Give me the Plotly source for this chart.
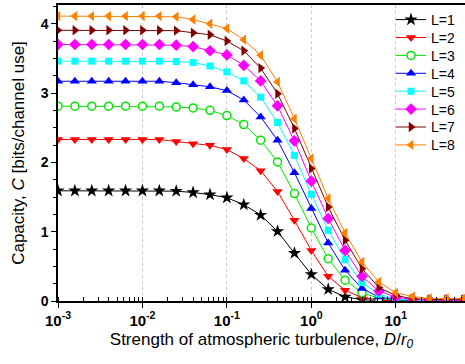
import plotly.graph_objects as go

# D/r0 values (5 points per decade)
x_vals = [0.001, 0.001585, 0.002512, 0.003981, 0.00631,
          0.01, 0.01585, 0.02512, 0.03981, 0.0631,
          0.1, 0.1585, 0.2512, 0.3981, 0.631,
          1.0, 1.585, 2.512, 3.981, 6.31,
          10.0, 15.85, 25.12, 39.81, 63.1]

cap_L1 = [1.59, 1.59, 1.59, 1.59, 1.59, 1.59, 1.59, 1.585, 1.565, 1.535,
          1.49, 1.39, 1.24, 1.005, 0.69, 0.383, 0.168, 0.06, 0.018, 0.005,
          0.002, 0.001, 0.001, 0.001, 0.001]
cap_L2 = [2.33, 2.33, 2.33, 2.33, 2.33, 2.33, 2.33, 2.30, 2.27, 2.245,
          2.185, 2.055, 1.88, 1.58, 1.165, 0.73, 0.356, 0.154, 0.05, 0.015,
          0.005, 0.002, 0.002, 0.002, 0.002]
cap_L3 = [2.81, 2.81, 2.81, 2.81, 2.81, 2.81, 2.81, 2.80, 2.785, 2.75,
          2.675, 2.545, 2.32, 2.006, 1.55, 1.053, 0.61, 0.30, 0.12, 0.04,
          0.012, 0.004, 0.002, 0.002, 0.002]
cap_L4 = [3.17, 3.17, 3.17, 3.17, 3.17, 3.17, 3.17, 3.15, 3.12, 3.09,
          3.035, 2.90, 2.655, 2.32, 1.85, 1.333, 0.837, 0.443, 0.18, 0.058,
          0.018, 0.006, 0.003, 0.003, 0.003]
cap_L5 = [3.46, 3.46, 3.46, 3.46, 3.46, 3.46, 3.46, 3.455, 3.44, 3.39,
          3.305, 3.175, 2.94, 2.575, 2.10, 1.54, 1.02, 0.597, 0.265, 0.097,
          0.03, 0.009, 0.004, 0.004, 0.004]
cap_L6 = [3.70, 3.70, 3.70, 3.70, 3.70, 3.70, 3.70, 3.69, 3.67, 3.61,
          3.55, 3.40, 3.175, 2.815, 2.31, 1.73, 1.19, 0.73, 0.356, 0.144,
          0.058, 0.02, 0.01, 0.01, 0.01]
cap_L7 = [3.905, 3.905, 3.905, 3.905, 3.905, 3.905, 3.905, 3.90, 3.87, 3.84,
          3.75, 3.61, 3.36, 2.99, 2.49, 1.91, 1.356, 0.876, 0.467, 0.193,
          0.082, 0.03, 0.02, 0.02, 0.02]
cap_L8 = [4.11, 4.11, 4.11, 4.11, 4.11, 4.11, 4.11, 4.10, 4.06, 4.00,
          3.93, 3.77, 3.545, 3.16, 2.63, 2.055, 1.478, 0.98, 0.563, 0.274,
          0.12, 0.065, 0.035, 0.035, 0.035]

series_names = ["L=1", "L=2", "L=3", "L=4", "L=5", "L=6", "L=7", "L=8"]
series_vals = [cap_L1, cap_L2, cap_L3, cap_L4, cap_L5, cap_L6, cap_L7, cap_L8]
colors = ["#000000", "#FF0000", "#00E600", "#0000FF", "#00FFFF", "#FF00FF", "#800000", "#FF8000"]
symbols = ["star", "triangle-down", "circle", "triangle-up", "square", "diamond",
           "triangle-right", "triangle-left"]
sizes = [10, 9, 8, 9, 7, 9, 9, 9]

x_tickvals = [0.001, 0.01, 0.1, 1, 10]
x_ticktext = ["10<sup>-3</sup>", "10<sup>-2</sup>", "10<sup>-1</sup>", "10<sup>0</sup>", "10<sup>1</sup>"]

# layout geometry
H, W = 364, 465
M_T, M_B, M_L, M_R = 5, 63, 58, 0
plot_h = H - M_T - M_B
plot_w = W - M_L - M_R

fig = go.Figure()
legend_layouts = {}
for i, (name, vals, col, sym, sz) in enumerate(zip(series_names, series_vals, colors, symbols, sizes)):
    if sym == "circle":
        marker = dict(symbol=sym, size=sz, color="white", line=dict(color=col, width=1.5))
    else:
        marker = dict(symbol=sym, size=sz, color=col, line=dict(width=0))
    lg = "legend" if i == 0 else f"legend{i + 1}"
    fig.add_trace(go.Scatter(x=x_vals, y=vals, mode="lines+markers", name=name,
                             line=dict(color=col, width=1), marker=marker, legend=lg))
    yc = 20 + 17.9 * i  # item centre in pixels from top
    legend_layouts[lg] = dict(
        x=(391 - M_L) / plot_w, y=(H - M_B - yc) / plot_h,
        xanchor="left", yanchor="middle",
        bgcolor="rgba(0,0,0,0)", font=dict(size=14),
        itemwidth=30, borderwidth=0,
    )

font_family = "Liberation Sans, Arial, sans-serif"
fig.update_layout(
    width=W, height=H,
    margin=dict(l=M_L, r=M_R, t=M_T, b=M_B),
    paper_bgcolor="white", plot_bgcolor="white",
    font=dict(family=font_family, size=13, color="black"),
    showlegend=True,
    xaxis=dict(
        type="log", range=[-3, 1.82],
        showline=True, linecolor="black", linewidth=1.5, mirror=True,
        ticks="outside", ticklen=5, tickwidth=1.2, tickcolor="black",
        tickvals=x_tickvals, ticktext=x_ticktext,
        tickfont=dict(size=15, weight="bold"),
        showgrid=True, gridcolor="#c8c8c8", griddash="dot", gridwidth=1,
        minor=dict(ticks="inside", ticklen=4, tickcolor="black", dtick="D1", showgrid=False),
        zeroline=False,
        title=dict(text="Strength of atmospheric turbulence, <i>D</i>/<i>r</i><sub><i>0</i></sub>",
                   font=dict(size=17), standoff=5),
    ),
    yaxis=dict(
        range=[0, 4.27],
        showline=True, linecolor="black", linewidth=1.5,
        ticks="outside", ticklen=5, tickwidth=1.2, tickcolor="black",
        tickvals=[0, 1, 2, 3, 4],
        tickfont=dict(size=14, weight="bold"),
        showgrid=False, zeroline=False,
        minor=dict(ticks="outside", ticklen=3, tickcolor="black", dtick=0.25),
        title=dict(text="Capacity, <i>C</i> [bits/channel use]", font=dict(size=17), standoff=12),
    ),
    **legend_layouts,
)

fig.write_html("out.html", config={"displayModeBar": False},
               post_script="document.body.style.margin='0';")
